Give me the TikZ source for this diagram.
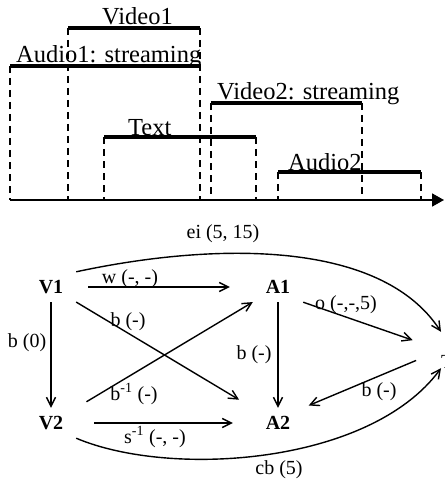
\documentclass[tikz,border=0pt]{standalone}
\usepackage{fontspec}
\setmainfont{Liberation Serif}
\usetikzlibrary{arrows.meta}
\tikzset{
  bar/.style={line width=3.5pt},
  drop/.style={line width=1.8pt, dash pattern=on 7pt off 5pt},
  tlbl/.style={font=\fontsize{24.5}{26}\selectfont, inner sep=0pt, anchor=base west},
  vx/.style={font=\fontsize{20}{22}\selectfont\bfseries, minimum width=50pt, minimum height=30pt, inner sep=0pt},
  elbl/.style={font=\fontsize{20}{22}\selectfont, inner sep=0pt},
  edge/.style={line width=1.4pt, -{Straight Barb[length=9pt,width=9pt]}},
}
\begin{document}
\begin{tikzpicture}[x=1pt, y=-1pt]
\useasboundingbox (0,0) rectangle (444,481);
% timeline
\draw[line width=1.8pt, -{Triangle[length=12pt,width=13pt]}] (10,200)--(444,200);
\foreach \x/\y in {10/66, 68/28, 200/28, 104/137, 256/137, 211/103, 362/103, 278/172, 421/172}
  \draw[drop] (\x,\y)--(\x,200);
\foreach \a/\b/\y in {10/200/66, 68/200/28, 211/362/103, 104/256/137, 278/421/172}
  \draw[bar] (\a,\y)--(\b,\y);
\node[tlbl] (video1) at (102,25) {Video1};
\node[tlbl] (audio1) at (16,63) {Audio1: streaming};
\node[tlbl] (video2) at (217,100) {Video2: streaming};
\node[tlbl] (text) at (128,136) {Text};
\node[tlbl] (audio2) at (288,171) {Audio2};
% graph
\node[vx] (V1) at (51,287) {V1};
\node[vx] (A1) at (278,287) {A1};
\node[vx] (V2) at (51,423) {V2};
\node[vx] (A2) at (278,423) {A2};
\node[elbl, text height=36pt, text depth=0pt, anchor=west] (T) at (441,350) {T};
\draw[edge, shorten <=12pt, shorten >=23pt] (V1)--(A1);
\draw[edge] (V1)--(V2);
\draw[edge, shorten >=16pt] (V1)--(A2);
\draw[edge, shorten <=12pt] (V2)--(A1);
\draw[edge, shorten <=18pt, shorten >=20pt] (V2)--(A2);
\draw[edge] (A1)--(A2);
\draw[edge, shorten >=30pt] (A1.south east)--(T.west);
\draw[edge, shorten <=27pt, shorten >=6pt] (T.west)--(A2.north east);
\draw[edge] (V1.north east) .. controls (210,243) and (380,238) .. (T.north west);
\draw[edge] (V2.south east) .. controls (170,478) and (370,465) .. (T.south west);
\node[elbl] (lw) at (130,279) {w (-, -)};
\node[elbl] (lb0) at (27,343) {b (0)};
\node[elbl] (lbx) at (128,322) {b (-)};
\node[elbl] (lbi) at (134,394) {b\textsuperscript{-1} (-)};
\node[elbl] (ls) at (155,437) {s\textsuperscript{-1} (-, -)};
\node[elbl] (lba) at (254,355) {b (-)};
\node[elbl] (lo) at (346,305) {o (-,-,5)};
\node[elbl] (lbt) at (379,392) {b (-)};
\node[elbl] (lei) at (223,234) {ei (5, 15)};
\node[elbl] (lcb) at (279,470) {cb (5)};
\end{tikzpicture}
\end{document}
